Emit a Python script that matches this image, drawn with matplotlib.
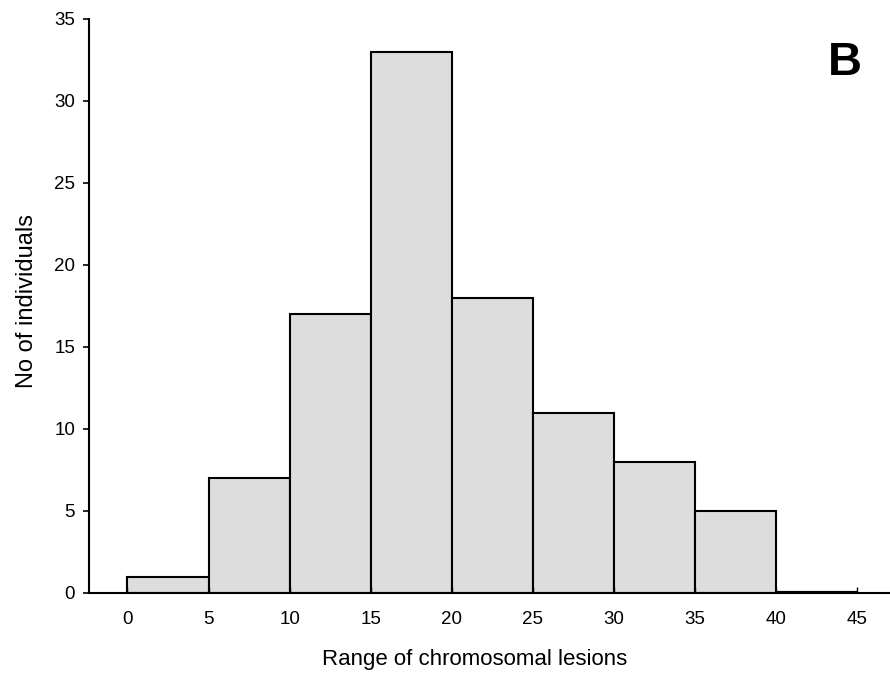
import matplotlib
matplotlib.use('Agg')
import matplotlib.pyplot as plt
import numpy as np

# histogram bins and counts
bin_edges = [0, 5, 10, 15, 20, 25, 30, 35, 40, 45]
counts = [1, 7, 17, 33, 18, 11, 8, 5, 0]
x_ticks = [0, 5, 10, 15, 20, 25, 30, 35, 40, 45]
y_ticks = [0, 5, 10, 15, 20, 25, 30, 35]

plt.rcParams['font.family'] = ['Liberation Sans', 'DejaVu Sans']

fig = plt.figure(figsize=(8.9, 6.75), dpi=100)
ax = fig.add_axes([0.1, 0.1215, 0.9, 0.8504])

lefts = np.array(bin_edges[:-1])
widths = np.diff(bin_edges)
# empty bins get a heavier base line, as in the original
lws = [1.5 if c > 0 else 3 for c in counts]
ax.bar(lefts, counts, width=widths, align='edge',
       color='#dddddd', edgecolor='black', linewidth=lws)

ax.set_xlim(-2.375, 47.04)
ax.set_ylim(0, 35)
ax.set_xticks(x_ticks)
ax.set_yticks(y_ticks)

# spines
for s in ['top', 'right']:
    ax.spines[s].set_visible(False)
ax.spines['left'].set_linewidth(1.5)
ax.spines['bottom'].set_linewidth(1.5)

ax.tick_params(axis='x', direction='in', length=4, width=1, pad=13, labelsize=13.5)
ax.tick_params(axis='y', direction='out', length=4, width=1.2, pad=6, labelsize=13.5)

ax.set_xlabel('Range of chromosomal lesions', fontsize=16)
ax.set_ylabel('No of individuals', fontsize=17)
ax.xaxis.set_label_coords(0.482, -0.097)
ax.yaxis.set_label_coords(-0.064, 0.509)

ax.text(0.944, 0.9024, 'B', transform=ax.transAxes, fontsize=34,
        fontweight='bold', ha='center', va='baseline')

fig.savefig('out.png', dpi=100)
